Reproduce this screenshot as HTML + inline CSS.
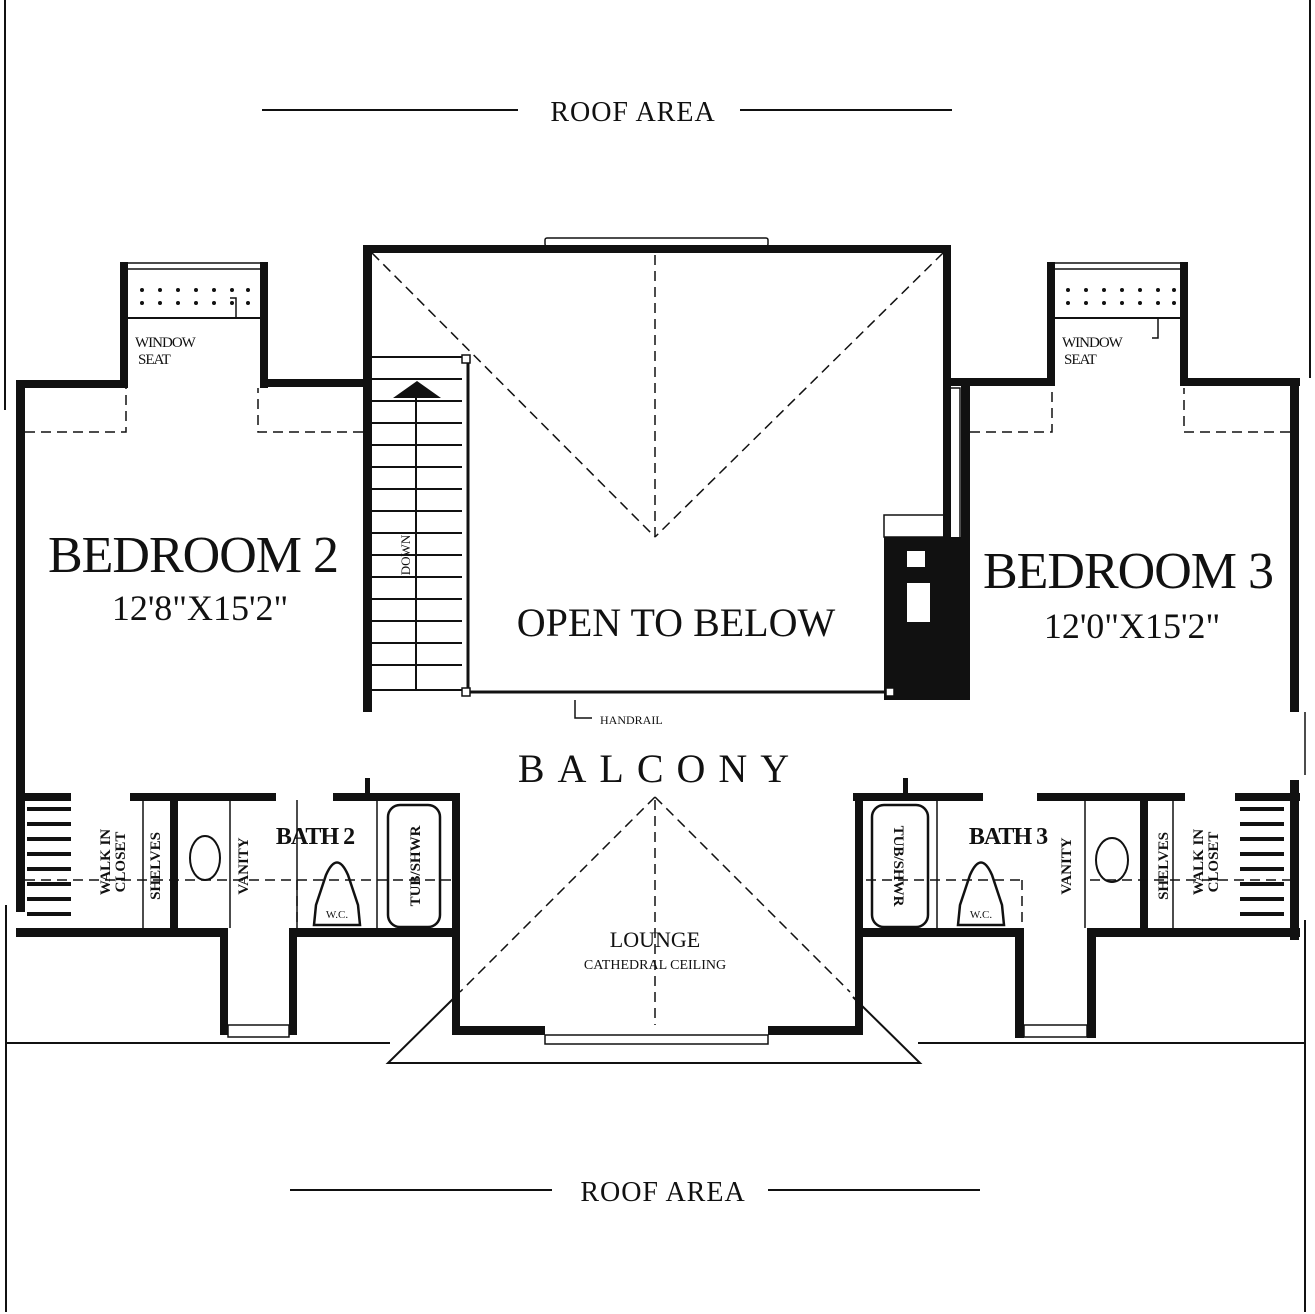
<!DOCTYPE html>
<html><head><meta charset="utf-8"><style>
html,body{margin:0;padding:0;background:#fff}
svg{display:block}
text{font-family:"Liberation Serif",serif;fill:#111}
</style></head><body>
<svg width="1315" height="1314" viewBox="0 0 1315 1314" xmlns="http://www.w3.org/2000/svg">
<rect width="1315" height="1314" fill="#fff"/>
<g stroke="#111" fill="none" stroke-width="2">
 <line x1="5" y1="0" x2="5" y2="410"/>
 <line x1="1310" y1="0" x2="1310" y2="378"/>
 <line x1="6" y1="905" x2="6" y2="1312"/>
 <line x1="1305" y1="920" x2="1305" y2="1312"/>
 <line x1="6" y1="1043" x2="390" y2="1043"/>
 <line x1="918" y1="1043" x2="1305" y2="1043"/>
 <line x1="262" y1="110" x2="518" y2="110"/>
 <line x1="740" y1="110" x2="952" y2="110"/>
 <line x1="290" y1="1190" x2="552" y2="1190"/>
 <line x1="768" y1="1190" x2="980" y2="1190"/>
</g>
<g fill="#111">
 <rect x="16" y="380" width="9" height="532"/>
 <rect x="16" y="380" width="112" height="8"/>
 <rect x="120" y="262" width="8" height="126"/>
 <rect x="260" y="262" width="8" height="126"/>
 <rect x="260" y="379" width="110" height="8"/>
 <rect x="363" y="245" width="9" height="467"/>
 <rect x="363" y="245" width="588" height="8"/>
 <rect x="943" y="245" width="8" height="295"/>
 <rect x="961" y="378" width="9" height="322"/>
 <rect x="884" y="537" width="86" height="163"/>
 <rect x="951" y="378" width="104" height="8"/>
 <rect x="1047" y="262" width="8" height="124"/>
 <rect x="1180" y="262" width="8" height="124"/>
 <rect x="1180" y="378" width="120" height="8"/>
 <rect x="1290" y="378" width="9" height="334"/>
 <rect x="1290" y="780" width="9" height="160"/>
 <rect x="16" y="793" width="55" height="8"/>
 <rect x="130" y="793" width="146" height="8"/>
 <rect x="333" y="793" width="127" height="8"/>
 <rect x="365" y="778" width="5" height="16"/>
 <rect x="853" y="793" width="130" height="8"/>
 <rect x="903" y="778" width="5" height="16"/>
 <rect x="1037" y="793" width="148" height="8"/>
 <rect x="1235" y="793" width="65" height="8"/>
 <rect x="170" y="800" width="8" height="130"/>
 <rect x="16" y="928" width="212" height="9"/>
 <rect x="220" y="928" width="8" height="107"/>
 <rect x="289" y="928" width="8" height="107"/>
 <rect x="289" y="928" width="171" height="9"/>
 <rect x="452" y="793" width="8" height="242"/>
 <rect x="452" y="1026" width="93" height="9"/>
 <rect x="768" y="1026" width="95" height="9"/>
 <rect x="855" y="793" width="8" height="242"/>
 <rect x="855" y="928" width="168" height="9"/>
 <rect x="1015" y="928" width="9" height="110"/>
 <rect x="1087" y="928" width="9" height="110"/>
 <rect x="1087" y="928" width="213" height="9"/>
 <rect x="1140" y="800" width="8" height="130"/>
 <polygon points="393,398 417,381 441,398"/>
</g>
<g fill="#fff">
 <rect x="907" y="551" width="18" height="16"/>
 <rect x="907" y="583" width="23" height="39"/>
</g>
<g stroke="#111" fill="none" stroke-width="1.5">
 <rect x="545" y="238" width="223" height="8" rx="2"/>
 <rect x="545" y="1035" width="223" height="9"/>
 <rect x="122" y="263" width="144" height="6"/>
 <rect x="1049" y="263" width="137" height="6"/>
 <line x1="128" y1="318" x2="260" y2="318" stroke-width="2"/>
 <line x1="1055" y1="318" x2="1180" y2="318" stroke-width="2"/>
 <rect x="950" y="388" width="10" height="150"/>
 <rect x="884" y="515" width="60" height="22"/>
 <line x1="1305" y1="712" x2="1305" y2="775"/>
 <rect x="228" y="1025" width="61" height="12"/>
 <rect x="1024" y="1025" width="63" height="12"/>
 <g stroke-dasharray="10,6">
  <polyline points="25,432 126,432 126,388"/>
  <polyline points="363,432 258,432 258,388"/>
  <polyline points="970,432 1052,432 1052,388"/>
  <polyline points="1290,432 1184,432 1184,388"/>
  <line x1="372" y1="253" x2="655" y2="537"/>
  <line x1="943" y1="253" x2="655" y2="537"/>
  <line x1="655" y1="255" x2="655" y2="537"/>
  <line x1="655" y1="797" x2="460" y2="992"/>
  <line x1="655" y1="797" x2="850" y2="992"/>
  <line x1="655" y1="800" x2="655" y2="1025"/>
  <line x1="25" y1="880" x2="455" y2="880"/>
  <line x1="297" y1="880" x2="297" y2="928"/>
  <line x1="866" y1="880" x2="1022" y2="880"/>
  <line x1="1022" y1="880" x2="1022" y2="928"/>
  <line x1="1090" y1="880" x2="1290" y2="880"/>
 </g>
 <polyline points="455,997 388,1063 920,1063 853,997" stroke-width="2"/>
 <g stroke-width="2">
  <line x1="372" y1="357" x2="462" y2="357"/><line x1="372" y1="379" x2="462" y2="379"/>
  <line x1="372" y1="401" x2="462" y2="401"/><line x1="372" y1="423" x2="462" y2="423"/>
  <line x1="372" y1="445" x2="462" y2="445"/><line x1="372" y1="467" x2="462" y2="467"/>
  <line x1="372" y1="489" x2="462" y2="489"/><line x1="372" y1="511" x2="462" y2="511"/>
  <line x1="372" y1="533" x2="462" y2="533"/><line x1="372" y1="555" x2="462" y2="555"/>
  <line x1="372" y1="577" x2="462" y2="577"/><line x1="372" y1="599" x2="462" y2="599"/>
  <line x1="372" y1="621" x2="462" y2="621"/><line x1="372" y1="643" x2="462" y2="643"/>
  <line x1="372" y1="665" x2="462" y2="665"/><line x1="372" y1="690" x2="462" y2="690"/>
  <line x1="416" y1="395" x2="416" y2="690"/>
  <line x1="468" y1="362" x2="468" y2="690" stroke-width="3"/>
  <line x1="468" y1="692" x2="890" y2="692" stroke-width="3"/>
 </g>
 <rect x="462" y="355" width="8" height="8" fill="#fff"/>
 <rect x="462" y="688" width="8" height="8" fill="#fff"/>
 <rect x="886" y="688" width="8" height="8" fill="#fff"/>
 <polyline points="575,700 575,718 592,718"/>
 <polyline points="230,298 236,298 236,318"/>
 <polyline points="1152,338 1158,338 1158,318"/>
 <line x1="143" y1="800" x2="143" y2="928"/>
 <line x1="230" y1="800" x2="230" y2="928"/>
 <line x1="1173" y1="800" x2="1173" y2="928"/>
 <line x1="1085" y1="800" x2="1085" y2="928"/>
 <line x1="297" y1="800" x2="297" y2="928"/>
 <line x1="377" y1="800" x2="377" y2="928"/>
 <line x1="937" y1="800" x2="937" y2="928"/>
 <ellipse cx="205" cy="858" rx="15" ry="22" stroke-width="2"/>
 <ellipse cx="1112" cy="860" rx="16" ry="22" stroke-width="2"/>
 <rect x="388" y="805" width="52" height="122" rx="12" stroke-width="2.5"/>
 <rect x="872" y="805" width="56" height="122" rx="12" stroke-width="2.5"/>
 <path d="M314,925 L316,905 L326,875 Q337,850 348,875 L358,905 L360,925 Z" stroke-width="2.5"/>
 <path d="M958,925 L960,905 L970,875 Q981,850 992,875 L1002,905 L1004,925 Z" stroke-width="2.5"/>
</g>
<g fill="#111">
 <g id="dots">
  <circle cx="142" cy="290" r="2"/><circle cx="160" cy="290" r="2"/><circle cx="178" cy="290" r="2"/><circle cx="196" cy="290" r="2"/><circle cx="214" cy="290" r="2"/><circle cx="232" cy="290" r="2"/><circle cx="248" cy="290" r="2"/>
  <circle cx="142" cy="303" r="2"/><circle cx="160" cy="303" r="2"/><circle cx="178" cy="303" r="2"/><circle cx="196" cy="303" r="2"/><circle cx="214" cy="303" r="2"/><circle cx="232" cy="303" r="2"/><circle cx="248" cy="303" r="2"/>
 </g>
 <use href="#dots" x="926"/>
 <g id="rack"><rect x="27" y="807" width="44" height="4"/><rect x="27" y="822" width="44" height="4"/><rect x="27" y="837" width="44" height="4"/><rect x="27" y="852" width="44" height="4"/><rect x="27" y="867" width="44" height="4"/><rect x="27" y="882" width="44" height="4"/><rect x="27" y="897" width="44" height="4"/><rect x="27" y="912" width="44" height="4"/></g>
 <use href="#rack" x="1213"/>
</g>
<text x="633" y="121" font-size="28" text-anchor="middle" letter-spacing="1">ROOF AREA</text>
<text x="663" y="1201" font-size="28" text-anchor="middle" letter-spacing="1">ROOF AREA</text>
<text x="193" y="572" font-size="52" text-anchor="middle" letter-spacing="-1">BEDROOM 2</text>
<text x="200" y="620" font-size="36" text-anchor="middle">12'8"X15'2"</text>
<text x="1128" y="588" font-size="52" text-anchor="middle" letter-spacing="-1">BEDROOM 3</text>
<text x="1132" y="638" font-size="36" text-anchor="middle">12'0"X15'2"</text>
<text x="676" y="636" font-size="40" text-anchor="middle" letter-spacing="0">OPEN  TO  BELOW</text>
<text x="660" y="782" font-size="40" text-anchor="middle" letter-spacing="13">BALCONY</text>
<text x="600" y="724" font-size="12">HANDRAIL</text>
<text x="135" y="347" font-size="15" letter-spacing="-1">WINDOW</text>
<text x="138" y="364" font-size="15" letter-spacing="-1">SEAT</text>
<text x="1062" y="347" font-size="15" letter-spacing="-1">WINDOW</text>
<text x="1064" y="364" font-size="15" letter-spacing="-1">SEAT</text>
<text x="315" y="844" font-size="24" text-anchor="middle" font-weight="bold" letter-spacing="-1">BATH 2</text>
<text x="1008" y="844" font-size="24" text-anchor="middle" font-weight="bold" letter-spacing="-1">BATH 3</text>
<text x="655" y="947" font-size="22" text-anchor="middle">LOUNGE</text>
<text x="655" y="969" font-size="14" text-anchor="middle">CATHEDRAL CEILING</text>
<text x="337" y="918" font-size="11" text-anchor="middle">W.C.</text>
<text x="981" y="918" font-size="11" text-anchor="middle">W.C.</text>
<text transform="translate(410,555) rotate(-90)" font-size="13" text-anchor="middle">DOWN</text>
<text transform="translate(110,862) rotate(-90)" font-size="15" text-anchor="middle" font-weight="bold">WALK IN</text>
<text transform="translate(125,862) rotate(-90)" font-size="15" text-anchor="middle" font-weight="bold">CLOSET</text>
<text transform="translate(160,866) rotate(-90)" font-size="15" text-anchor="middle" font-weight="bold">SHELVES</text>
<text transform="translate(248,866) rotate(-90)" font-size="15" text-anchor="middle" font-weight="bold">VANITY</text>
<text transform="translate(420,866) rotate(-90)" font-size="15" text-anchor="middle" font-weight="bold">TUB/SHWR</text>
<text transform="translate(894,866) rotate(90)" font-size="15" text-anchor="middle" font-weight="bold">TUB/SHWR</text>
<text transform="translate(1071,866) rotate(-90)" font-size="15" text-anchor="middle" font-weight="bold">VANITY</text>
<text transform="translate(1168,866) rotate(-90)" font-size="15" text-anchor="middle" font-weight="bold">SHELVES</text>
<text transform="translate(1203,862) rotate(-90)" font-size="15" text-anchor="middle" font-weight="bold">WALK IN</text>
<text transform="translate(1218,862) rotate(-90)" font-size="15" text-anchor="middle" font-weight="bold">CLOSET</text>
</svg>
</body></html>
